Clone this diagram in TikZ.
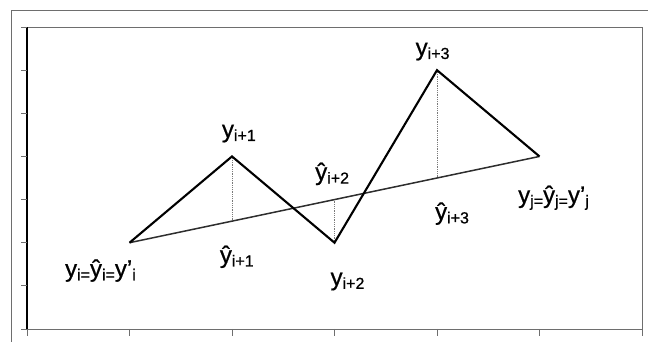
\documentclass[tikz,border=0pt]{standalone}
\usepackage{fontspec}
\setmainfont{Liberation Sans}
\newfontfamily\lblfont{Liberation Sans}[FakeBold=0.7]
\definecolor{frameGray}{HTML}{6E6E6E}
\definecolor{fitGray}{HTML}{2E2E2E}
\definecolor{residGray}{HTML}{7A7A7A}
\usepackage{tikz}
\usetikzlibrary{calc}
\newcommand{\lsub}[1]{\raisebox{-3.5pt}{\fontsize{16}{16}\selectfont #1}}

\begin{document}
\begin{tikzpicture}[
  x=102.5pt, y=43.14pt,
  lbl/.style={anchor=base west, inner sep=0pt, font=\lblfont\fontsize{24}{24}\selectfont},
  axtick/.style={line width=0.8pt, frameGray},
  dataline/.style={line width=2.1pt, line join=miter},
  fitline/.style={line width=1.5pt, fitGray},
  resid/.style={line width=0.8pt, residGray, densely dotted}]
  \useasboundingbox (-27pt,-13pt) rectangle (621pt,329pt);

  % outer frame of the scanned chart
  \draw[line width=0.6pt, frameGray] (-16pt,-13pt) -- (-16pt,319pt) -- (621pt,319pt);

  % plot area and ticks
  \draw[line width=0.8pt, frameGray] (0,0) rectangle (6,7);
  \draw[line width=1.4pt] (0,0) -- (0,7);
  \foreach \k in {0,...,7} \draw[axtick] (0,\k) -- ++(-6pt,0pt);
  \foreach \k in {0,...,6} \draw[axtick] (\k,0) -- ++(0pt,-7pt);

  % data points
  \coordinate (yi) at (1,2);
  \coordinate (yione) at (2,4);
  \coordinate (yitwo) at (3,2);
  \coordinate (yithree) at (4,6);
  \coordinate (yj) at (5,4);
  \coordinate (hone) at ($(yi)!0.25!(yj)$);
  \coordinate (htwo) at ($(yi)!0.5!(yj)$);
  \coordinate (hthree) at ($(yi)!0.75!(yj)$);

  \draw[resid] (yione) -- (hone);
  \draw[resid] (yitwo) -- (htwo);
  \draw[resid] (yithree) -- (hthree);
  \draw[fitline] (yi) -- (yj);
  \draw[dataline] (yi) -- (yione) -- (yitwo) -- (yithree) -- (yj);

  % labels
  \node[lbl] (lyi) at (0.37,1.21) {y\lsub{i=}ŷ\lsub{i=}y’\lsub{i}};
  \node[lbl] (lyione) at (1.90,4.44) {y\lsub{i+1}};
  \node[lbl] (lhone) at (1.88,1.53) {ŷ\lsub{i+1}};
  \node[lbl] (lhtwo) at (2.81,3.45) {ŷ\lsub{i+2}};
  \node[lbl] (lyitwo) at (2.96,1.01) {y\lsub{i+2}};
  \node[lbl] (lyithree) at (3.79,6.34) {y\lsub{i+3}};
  \node[lbl] (lhthree) at (3.98,2.53) {ŷ\lsub{i+3}};
  \node[lbl] (lyj) at (4.79,2.92) {y\lsub{j=}ŷ\lsub{j=}y’\lsub{j}};
\end{tikzpicture}
\end{document}
